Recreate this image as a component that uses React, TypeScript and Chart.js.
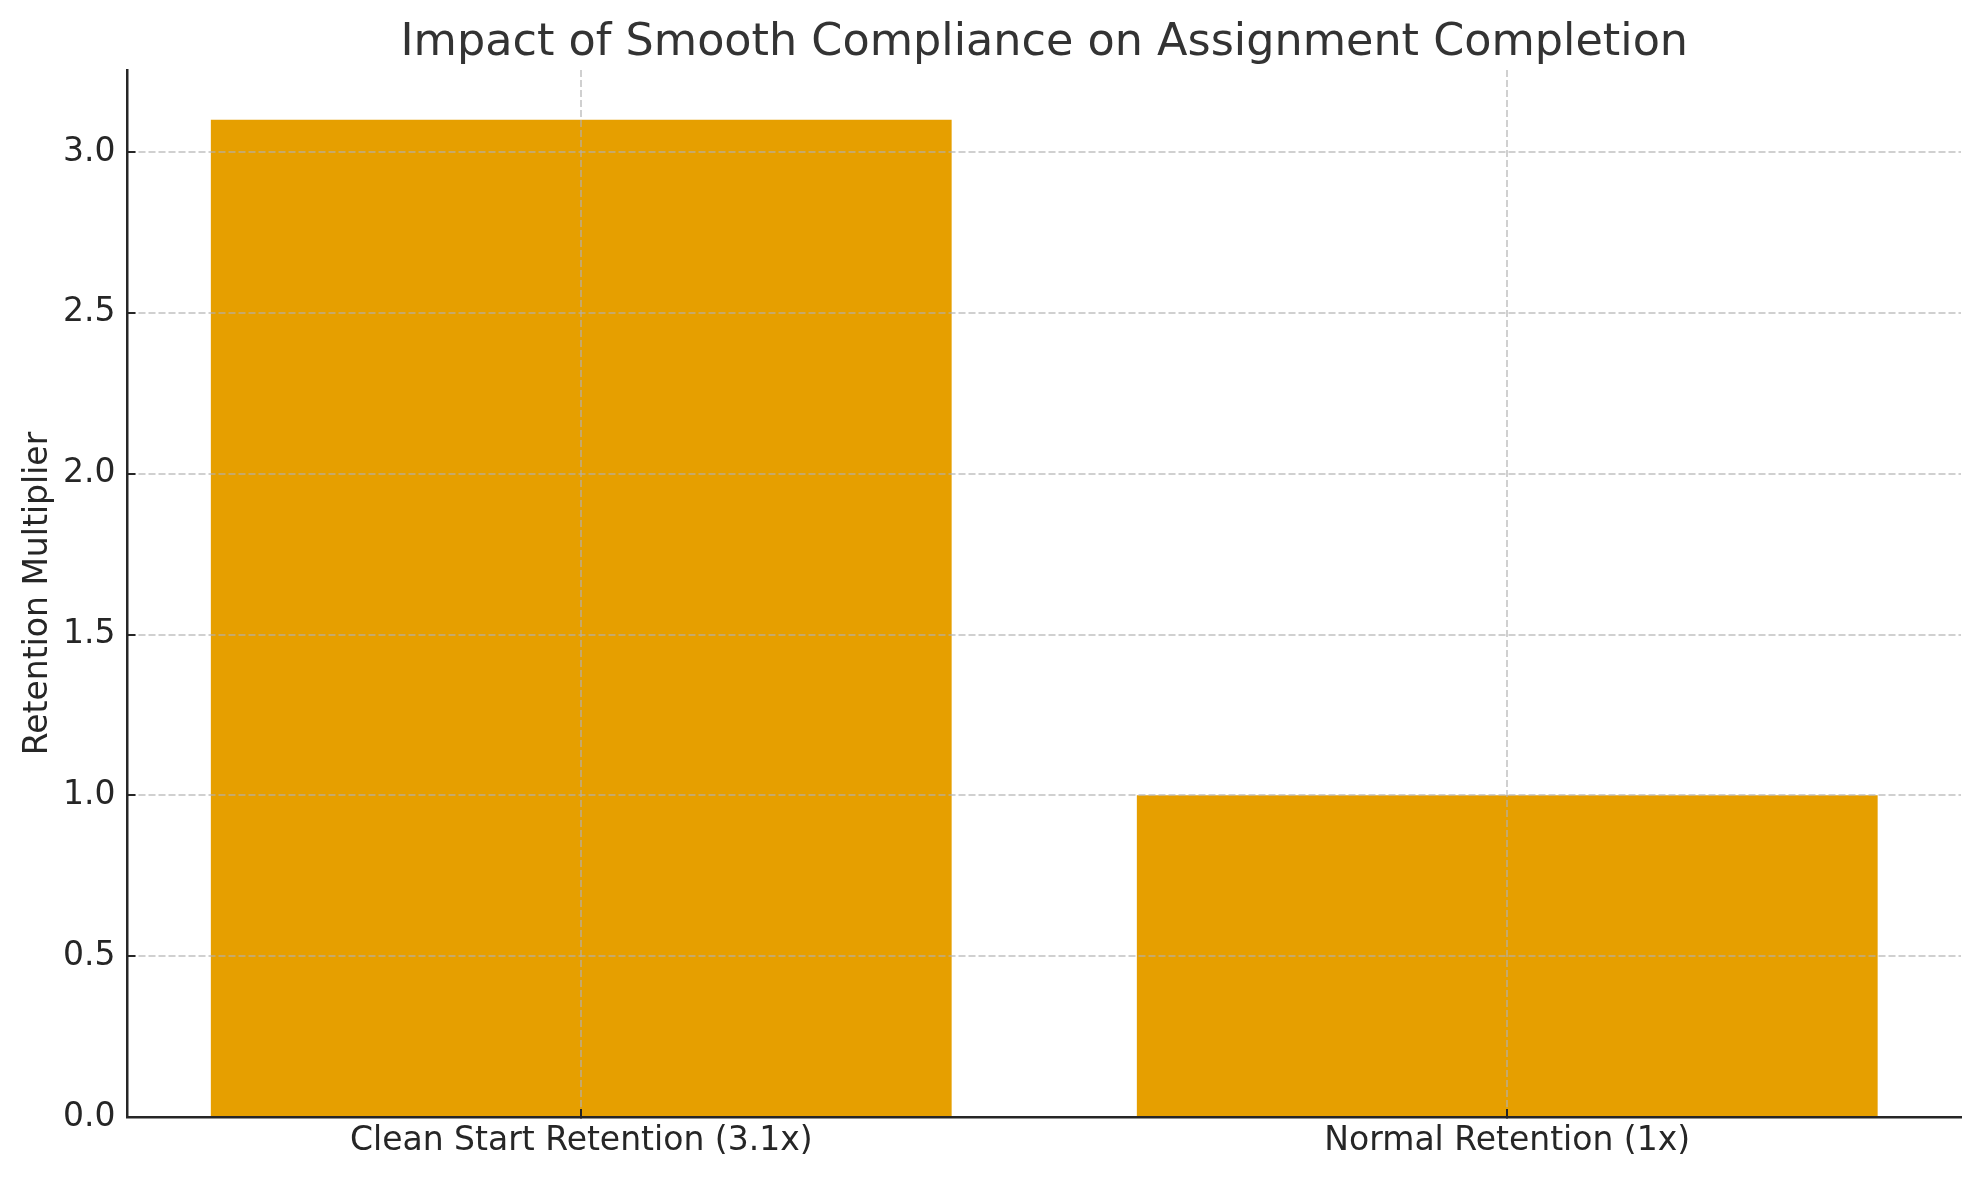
import React, { useEffect, useRef } from "react";
import { Chart, registerables } from "chart.js";

Chart.register(...registerables);

const categories = ["Clean Start Retention (3.1x)", "Normal Retention (1x)"];
const values = [3.1, 1.0];
const yTicks = [0, 0.5, 1.0, 1.5, 2.0, 2.5, 3.0];
const titleText = "Impact of Smooth Compliance on Assignment Completion";
const yLabel = "Retention Multiplier";

const FONT = "'DejaVu Sans', sans-serif";
const BAR = "#E69F00";
const GRID = "rgba(176,176,176,0.6)";
const AXIS = "#262626";

export default function App() {
  const ref = useRef<HTMLCanvasElement>(null);

  useEffect(() => {
    document.body.style.margin = "0";
    const n = categories.length;
    const yMax = Math.max(...values) * 1.05;
    const chart = new Chart(ref.current!, {
      type: "bar",
      data: {
        datasets: [
          {
            label: yLabel,
            data: values.map((v, i) => ({ x: i, y: v })),
            backgroundColor: BAR,
            borderWidth: 0,
            barPercentage: 0.8,
            categoryPercentage: 1,
          },
        ],
      },
      options: {
        animation: false,
        responsive: false,
        devicePixelRatio: 1,
        layout: { padding: { left: 0, right: 18, top: 0, bottom: 0 } },
        plugins: {
          legend: { display: false },
          tooltip: { enabled: false },
          title: {
            display: true,
            text: titleText,
            fullSize: false,
            color: "#333333",
            font: { family: FONT, size: 44.5, weight: "normal", lineHeight: 1 },
            padding: { top: 21, bottom: 4.5 },
          },
        },
        scales: {
          x: {
            type: "linear",
            min: -0.49,
            max: n - 1 + 0.49,
            offset: false,
            afterBuildTicks: (scale: any) => {
              scale.ticks = categories.map((_, i) => ({ value: i }));
            },
            afterFit: (scale: any) => {
              scale.height = 63;
            },
            ticks: {
              callback: (v: any) => categories[v as number] ?? "",
              font: { family: FONT, size: 33 },
              color: AXIS,
              padding: 13,
              maxRotation: 0,
              autoSkip: false,
              z: 1,
            },
            grid: {
              offset: false,
              color: GRID,
              lineWidth: 2,
              drawTicks: true,
              tickLength: -8,
              tickColor: AXIS,
              tickWidth: 2,
              z: 1,
            },
            border: { display: true, color: AXIS, width: 2.5, dash: [7, 3], z: 1 },
          },
          y: {
            type: "linear",
            min: 0,
            max: yMax,
            afterBuildTicks: (scale: any) => {
              scale.ticks = yTicks.map((v) => ({ value: v }));
            },
            afterFit: (scale: any) => {
              scale.width = 127.5;
            },
            ticks: {
              callback: (v: any) => Number(v).toFixed(1),
              font: { family: FONT, size: 33 },
              color: AXIS,
              padding: 20,
              includeBounds: false,
              z: 1,
            },
            grid: {
              color: (ctx: any) => (ctx.tick && ctx.tick.value === 0 ? "rgba(0,0,0,0)" : GRID),
              lineWidth: 2,
              drawTicks: true,
              tickLength: -8,
              tickColor: AXIS,
              tickWidth: 2,
              z: 1,
            },
            border: { display: true, color: AXIS, width: 2.5, dash: [7, 3], z: 1 },
            title: {
              display: true,
              text: yLabel,
              color: AXIS,
              font: { family: FONT, size: 33 },
              padding: { top: 19, bottom: 0 },
            },
          },
        },
      },
    });
    return () => chart.destroy();
  }, []);

  return (
    <div style={{ width: 1979, height: 1180, background: "#fff" }}>
      <canvas ref={ref} width={1979} height={1180} style={{ display: "block" }} />
    </div>
  );
}
